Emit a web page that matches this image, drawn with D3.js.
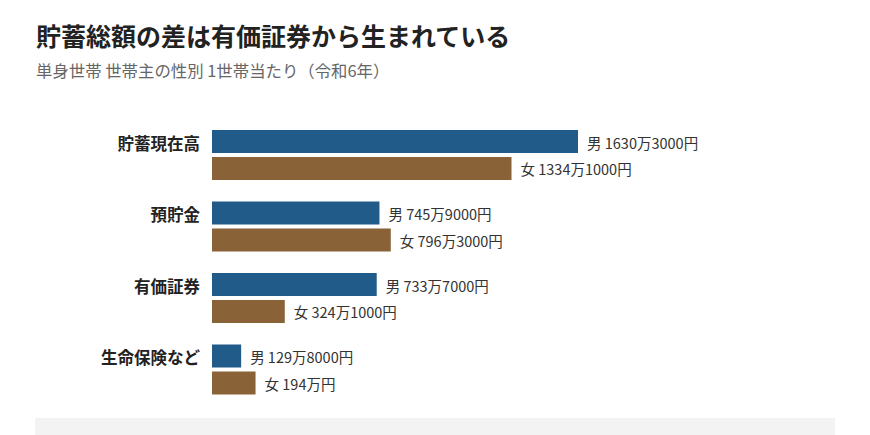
<!DOCTYPE html>
<html><head><meta charset="utf-8">
<script src="https://cdn.jsdelivr.net/npm/d3@7"></script>
<style>
html,body{margin:0;padding:0;background:#fff;}
svg{display:block;font-family:"Noto Sans CJK JP","Noto Sans",sans-serif;}
</style></head>
<body><svg id="c" width="870" height="435"></svg>
<script>
const title = "貯蓄総額の差は有価証券から生まれている";
const subtitle = "単身世帯 世帯主の性別 1世帯当たり（令和6年）";
const categories = ["貯蓄現在高", "預貯金", "有価証券", "生命保険など"];
const sexes = ["男", "女"];
const maleValues = [1630.3, 745.9, 733.7, 129.8];      // 万円
const femaleValues = [1334.1, 796.3, 324.1, 194.0];    // 万円
const maleLabels = ["1630万3000円", "745万9000円", "733万7000円", "129万8000円"];
const femaleLabels = ["1334万1000円", "796万3000円", "324万1000円", "194万円"];
const colors = ["#215b8a", "#8a6238"];

const rows = categories.map((c, i) => ({
  cat: c,
  vals: [
    {sex: sexes[0], v: maleValues[i], label: maleLabels[i]},
    {sex: sexes[1], v: femaleValues[i], label: femaleLabels[i]}
  ]
}));

const svg = d3.select("#c");
svg.append("text").attr("x", 36).attr("y", 46)
  .attr("font-size", 25).attr("font-weight", 700).attr("fill", "#222").text(title);
svg.append("text").attr("x", 36).attr("y", 77)
  .attr("font-size", 16.4).attr("fill", "#666").text(subtitle);

const x = d3.scaleLinear().domain([0, d3.max(maleValues)]).range([212, 578]);
const y = d3.scaleBand().domain(categories).range([130, 394.5]).paddingInner(0.3007).paddingOuter(0);
const ys = d3.scaleBand().domain(sexes).range([0, y.bandwidth()]).paddingInner(0.148).paddingOuter(0);
const color = d3.scaleOrdinal().domain(sexes).range(colors);

const g = svg.selectAll("g.row").data(rows).join("g").attr("class", "row")
  .attr("transform", d => `translate(0,${y(d.cat)})`);

g.append("text").attr("x", 200).attr("y", ys("男") + ys.bandwidth() / 2 + 1)
  .attr("text-anchor", "end").attr("dominant-baseline", "central")
  .attr("font-size", 16.5).attr("font-weight", 700).attr("fill", "#222")
  .text(d => d.cat);

const b = g.selectAll("g.bar").data(d => d.vals).join("g").attr("class", "bar");
b.append("rect").attr("x", x(0)).attr("y", d => ys(d.sex))
  .attr("width", d => x(d.v) - x(0)).attr("height", ys.bandwidth())
  .attr("fill", d => color(d.sex));
b.append("text").attr("x", d => x(d.v) + 9).attr("y", d => ys(d.sex) + ys.bandwidth() / 2 + 0.5)
  .attr("dominant-baseline", "central").attr("font-size", 14.5).attr("fill", "#333")
  .text(d => d.sex + " " + d.label);

svg.append("rect").attr("x", 35).attr("y", 418).attr("width", 800).attr("height", 40).attr("fill", "#f3f3f3");
</script></body></html>
